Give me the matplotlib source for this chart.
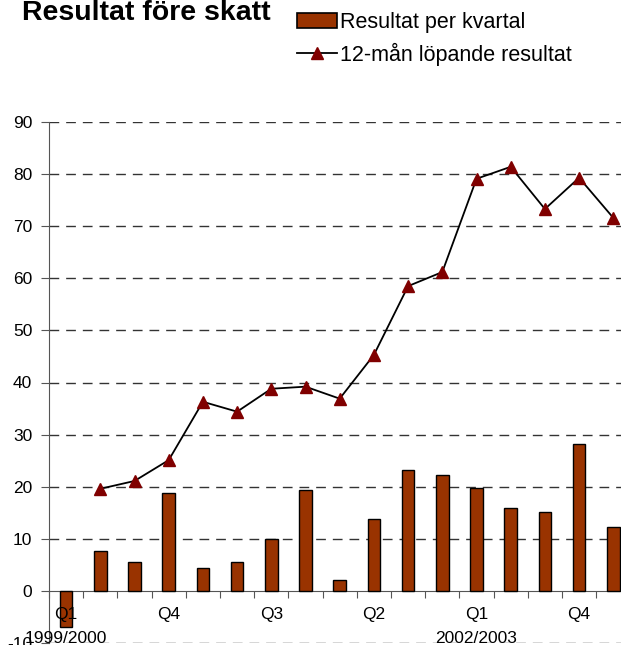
import numpy as np
import matplotlib
matplotlib.use("Agg")
import matplotlib.pyplot as plt
from matplotlib.patches import Patch
from matplotlib.lines import Line2D

plt.rcParams['font.family'] = ['Liberation Sans', 'DejaVu Sans']

quarter_labels = ["Q1", "", "", "Q4", "", "", "Q3", "", "", "Q2", "", "", "Q1", "", "", "Q4", ""]
year_labels = ["1999/2000", "", "", "", "", "", "", "", "", "", "", "", "2002/2003", "", "", "", ""]
kvartal = [-6.9, 7.7, 5.6, 18.8, 4.4, 5.6, 10.0, 19.4, 2.1, 13.8, 23.2, 22.3, 19.8, 15.9, 15.2, 28.2, 12.3]
lopande = [np.nan, 19.6, 21.1, 25.1, 36.3, 34.4, 38.8, 39.2, 36.9, 45.3, 58.5, 61.2, 79.1, 81.4, 73.3, 79.3, 71.6]
yticks = [-10, 0, 10, 20, 30, 40, 50, 60, 70, 80, 90]

W, H = 621, 645
fig = plt.figure(figsize=(W / 100, H / 100), dpi=100)
ax = fig.add_axes([49 / W, 2 / H, 581.4 / W, 521 / H])

n = len(kvartal)
x = np.arange(n)
bar_color = "#993300"
ax.bar(x, kvartal, width=0.37, color=bar_color, edgecolor="black", linewidth=1.0, zorder=2)
ax.plot(x, lopande, color="black", linewidth=1.3, marker="^", markersize=9,
        markerfacecolor="#800000", markeredgecolor="#800000", zorder=3)

ax.set_xlim(-0.5, n - 0.5)
ax.set_ylim(-10, 90)
for v in yticks:
    if v != 0:
        ax.axhline(v, color="#333333", linewidth=1.0, linestyle=(0, (7, 5)), zorder=0.5)

ax.spines['top'].set_visible(False)
ax.spines['right'].set_visible(False)
ax.spines['bottom'].set_position(('data', 0))
ax.spines['bottom'].set_color("#555555")
ax.spines['left'].set_color("#555555")
ax.spines['bottom'].set_zorder(1.5)

ax.set_yticks(yticks)
ax.set_yticklabels([str(v) for v in yticks])
ax.tick_params(axis='y', length=6, direction='out', color="#555555", labelsize=12.5, pad=6)
ax.set_xticks(np.arange(-0.5, n, 1.0))
ax.set_xticklabels([])
ax.tick_params(axis='x', length=5, direction='out', color="#555555")

for i in range(n):
    if quarter_labels[i]:
        ax.text(x[i], -4.6, quarter_labels[i], ha='center', va='center', fontsize=12.5, zorder=5)
    if year_labels[i]:
        ax.text(x[i], -9.2, year_labels[i], ha='center', va='center', fontsize=12.5, zorder=5)

fig.text(22 / W, 1 - 20 / H, "Resultat före skatt", fontsize=20.5, fontweight='bold', va='baseline', ha='left')

handles = [Patch(facecolor=bar_color, edgecolor="black", linewidth=1.2),
           Line2D([0], [0], color="black", linewidth=1.3, marker="^", markersize=9,
                  markerfacecolor="#800000", markeredgecolor="#800000")]
fig.legend(handles, ["Resultat per kvartal", "12-mån löpande resultat"],
           loc='upper left', bbox_to_anchor=(297 / W, 1 - 12 / H), frameon=False,
           fontsize=15.5, handlelength=1.85, handleheight=0.65, handletextpad=0.15,
           borderpad=0, borderaxespad=0, labelspacing=0.45)

fig.savefig("out.png", dpi=100)
